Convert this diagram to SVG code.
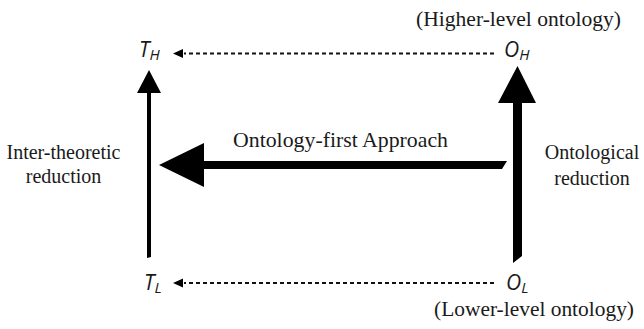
<svg xmlns="http://www.w3.org/2000/svg" width="644" height="329" viewBox="0 0 644 329">
<style>
.serif{font-family:"Liberation Serif","Times New Roman",serif;font-size:21px;fill:#1a1a1a}
.side{font-size:20px}
.sym{font-family:"Open Sans","DejaVu Sans",sans-serif;font-style:italic;fill:#1a1a1a}
.big{font-size:21px}
.sub{font-size:15px}
.dash{stroke:#111;stroke-width:2;stroke-dasharray:4 3;fill:none}
.solid{fill:#000}
</style>
<rect width="644" height="329" fill="#fff"/>
<g id="connectors">
  <line class="dash" x1="494" y1="53.5" x2="184" y2="53.5"/>
  <polygon class="solid" points="173,53.5 183,49 183,58"/>
  <line class="dash" x1="494" y1="283" x2="184" y2="283"/>
  <polygon class="solid" points="173,283 183,278.5 183,287.5"/>
  <polygon class="solid" points="147,258 151,257 151,93 161,93 149,70 137,93 147,93"/>
  <polygon class="solid" points="513,263 522,256 522,103 536,103 517.5,66 498,103 513,103"/>
  <polygon class="solid" points="507,161 502,169 204,169 204,187 159,165 204,143 204,161"/>
</g>
<g id="TH"><text class="sym big" x="139" y="57">T<tspan class="sub" dx="0" dy="3">H</tspan></text></g>
<g id="OH"><text class="sym big" x="504" y="57">O<tspan class="sub" dx="0" dy="3">H</tspan></text></g>
<g id="TL"><text class="sym big" x="144" y="290">T<tspan class="sub" dx="0" dy="3">L</tspan></text></g>
<g id="OL"><text class="sym big" x="506" y="290">O<tspan class="sub" dx="0" dy="3">L</tspan></text></g>
<g id="labels">
  <text class="serif" x="416" y="26" textLength="205" lengthAdjust="spacingAndGlyphs">(Higher-level ontology)</text>
  <text class="serif" x="434" y="316" textLength="200" lengthAdjust="spacingAndGlyphs">(Lower-level ontology)</text>
  <text class="serif" x="233" y="147" textLength="215" lengthAdjust="spacingAndGlyphs">Ontology-first Approach</text>
  <text class="serif side" x="63.5" y="159" text-anchor="middle">Inter-theoretic</text>
  <text class="serif side" x="63.5" y="183" text-anchor="middle">reduction</text>
  <text class="serif side" x="592" y="159" text-anchor="middle">Ontological</text>
  <text class="serif side" x="592" y="185" text-anchor="middle">reduction</text>
</g>
</svg>
